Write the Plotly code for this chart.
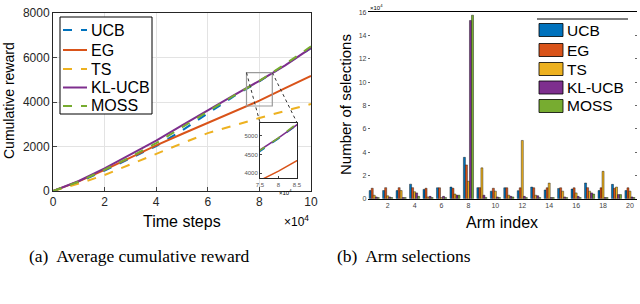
import plotly.graph_objects as go

# ---------------- data ----------------
# (a) cumulative reward, time in units of 10^4 steps
t = [0, 1, 2, 3, 4, 5, 6, 7, 8, 9, 10]
rew_ucb = [0, 400, 920, 1460, 2020, 2720, 3500, 4250, 4930, 5660, 6420]
rew_eg = [0, 430, 950, 1500, 2050, 2560, 3060, 3560, 4060, 4620, 5170]
rew_ts = [0, 330, 720, 1200, 1660, 2140, 2600, 2950, 3280, 3600, 3910]
rew_kl = [0, 450, 1020, 1630, 2260, 2950, 3640, 4300, 4950, 5650, 6430]
rew_moss = [0, 420, 960, 1530, 2150, 2870, 3580, 4280, 4950, 5700, 6500]

# (b) arm selections, units of 10^4
arms = list(range(1, 21))
sel_ucb = [0.70, 0.70, 0.70, 1.25, 0.80, 0.94, 1.00, 3.55, 0.95, 0.65, 0.94, 0.69, 1.00, 0.75, 0.88, 0.83, 1.35, 0.70, 1.23, 0.70]
sel_eg = [0.90, 0.95, 0.95, 0.95, 0.90, 0.94, 0.90, 2.90, 0.95, 0.90, 0.94, 0.94, 0.94, 0.94, 0.94, 0.94, 0.95, 0.94, 0.90, 0.94]
sel_ts = [0.30, 0.25, 0.70, 0.60, 0.15, 0.10, 0.40, 1.50, 2.65, 0.65, 0.30, 5.00, 0.30, 1.34, 0.65, 0.50, 0.65, 2.35, 1.00, 0.65]
sel_kl = [0.15, 0.15, 0.10, 0.50, 0.20, 0.20, 0.30, 15.30, 0.30, 0.15, 0.20, 0.20, 0.25, 0.10, 0.15, 0.20, 0.50, 0.10, 0.35, 0.15]
sel_moss = [0.10, 0.10, 0.10, 0.20, 0.10, 0.10, 0.30, 15.75, 0.10, 0.10, 0.15, 0.10, 0.10, 0.10, 0.10, 0.10, 0.40, 0.10, 0.35, 0.10]

names = ["UCB", "EG", "TS", "KL-UCB", "MOSS"]
x_ticks = [0, 2, 4, 6, 8, 10]
y_ticks = [0, 2000, 4000, 6000, 8000]
arm_ticks = [2, 4, 6, 8, 10, 12, 14, 16, 18, 20]
sel_ticks = [0, 2, 4, 6, 8, 10, 12, 14, 16]
inset_xticks = [7.5, 8, 8.5]
inset_xtext = ["7.5", "8", "8.5"]
inset_yticks = [4000, 4500, 5000]

# ---------------- style ----------------
W, H = 640, 304
colors = ["#0072BD", "#D95319", "#EDB120", "#7E2F8E", "#77AC30"]
dashes = ["dash", "solid", "dash", "solid", "dash"]
SANS = "Liberation Sans, Arial, sans-serif"
SERIF = "Liberation Serif, Times New Roman, serif"


def px(x):
    return x / W


def py(y):
    return 1 - y / H


main_dom_x = [px(53), px(311)]
main_dom_y = [py(191), py(13)]
ins_dom_x = [px(260), px(297)]
ins_dom_y = [py(178.3), py(122.7)]
bar_dom_x = [px(367.5), px(636.7)]
bar_dom_y = [py(198.7), py(12.3)]
main_xr = [0, 10]
main_yr = [0, 8000]
ins_xr = [7.5, 8.5]
ins_yr = [3866, 5356]

fig = go.Figure()

series = [rew_ucb, rew_eg, rew_ts, rew_kl, rew_moss]
for name, ys, c, d in zip(names, series, colors, dashes):
    fig.add_trace(go.Scatter(x=t, y=ys, name=name, mode="lines",
                             line=dict(color=c, dash=d, width=2),
                             xaxis="x", yaxis="y", showlegend=False))
for name, ys, c, d in zip(names, series, colors, dashes):
    fig.add_trace(go.Scatter(x=t, y=ys, name=name, mode="lines",
                             line=dict(color=c, dash=d, width=1.5),
                             xaxis="x2", yaxis="y2", showlegend=False))

bars = [sel_ucb, sel_eg, sel_ts, sel_kl, sel_moss]
for name, ys, c in zip(names, bars, colors):
    fig.add_trace(go.Bar(x=arms, y=ys, name=name,
                         marker=dict(color=c, line=dict(color="black", width=0.4)),
                         xaxis="x3", yaxis="y3", showlegend=False))

axcol = "#262626"
fig.update_layout(
    width=W, height=H, autosize=False,
    margin=dict(l=0, r=0, t=0, b=0, pad=0, autoexpand=False),
    paper_bgcolor="white", plot_bgcolor="white",
    font=dict(family=SANS, color=axcol),
    barmode="group", bargap=0.25, bargroupgap=0,
    showlegend=False,
    xaxis=dict(domain=main_dom_x, range=main_xr, tickvals=x_ticks,
               showgrid=True, gridcolor="#e3e3e3", zeroline=False,
               showline=True, mirror=True, linecolor=axcol, linewidth=1,
               ticks="inside", ticklen=4, tickfont=dict(size=12, color=axcol), anchor="y"),
    yaxis=dict(domain=main_dom_y, range=main_yr, tickvals=y_ticks,
               showgrid=True, gridcolor="#e3e3e3", zeroline=False,
               showline=True, mirror=True, linecolor=axcol, linewidth=1,
               ticks="inside", ticklen=4, tickfont=dict(size=12, color=axcol), anchor="x"),
    xaxis2=dict(domain=ins_dom_x, range=ins_xr, tickvals=inset_xticks, ticktext=inset_xtext,
                showgrid=False, zeroline=False, showline=True, mirror=True,
                linecolor=axcol, ticks="inside", ticklen=2,
                tickfont=dict(size=6, color="#555"), anchor="y2"),
    yaxis2=dict(domain=ins_dom_y, range=ins_yr, tickvals=inset_yticks,
                showgrid=False, zeroline=False, showline=True, mirror=True,
                linecolor=axcol, ticks="inside", ticklen=2,
                tickfont=dict(size=6, color="#555"), anchor="x2"),
    xaxis3=dict(domain=bar_dom_x, range=[0.5, 20.5], tickvals=arm_ticks,
                showgrid=False, zeroline=False, showline=True, mirror=True,
                linecolor="black", linewidth=1, ticks="",
                tickfont=dict(size=7, color="#444"), anchor="y3"),
    yaxis3=dict(domain=bar_dom_y, range=[0, 16], tickvals=sel_ticks,
                showgrid=False, zeroline=False, showline=False, mirror="ticks",
                ticks="inside", ticklen=2, tickcolor="#666",
                tickfont=dict(size=7, color="#444"), anchor="x3"),
)

# zoom rectangle + connectors
rx0, rx1, ry0, ry1 = 7.5, 8.5, 3820, 5320
fig.add_shape(type="rect", xref="x", yref="y", x0=rx0, x1=rx1, y0=ry0, y1=ry1,
              line=dict(color="#9a9a9a", width=1.2))


def main_to_paper(xv, yv):
    fx = main_dom_x[0] + (xv - main_xr[0]) / (main_xr[1] - main_xr[0]) * (main_dom_x[1] - main_dom_x[0])
    fy = main_dom_y[0] + (yv - main_yr[0]) / (main_yr[1] - main_yr[0]) * (main_dom_y[1] - main_dom_y[0])
    return fx, fy


for xv, ix in [(rx0, ins_dom_x[0]), (rx1, ins_dom_x[1])]:
    fx, fy = main_to_paper(xv, ry1)
    fig.add_shape(type="line", xref="paper", yref="paper", x0=fx, y0=fy, x1=ix, y1=ins_dom_y[1],
                  line=dict(color="#333", width=1, dash="dot"))

# ---------------- legends (drawn as key boxes) ----------------
leg_rows = [30, 50, 69, 87.5, 106]
LFS = 16
# left legend: line keys
fig.add_shape(type="rect", xref="paper", yref="paper", x0=px(60), x1=px(152), y0=py(114), y1=py(17),
              line=dict(color="black", width=1), fillcolor="white", layer="above")
for name, c, d, yy in zip(names, colors, dashes, leg_rows):
    fig.add_shape(type="line", xref="paper", yref="paper", x0=px(63), x1=px(87), y0=py(yy), y1=py(yy),
                  line=dict(color=c, width=2, dash=d), layer="above")
    fig.add_annotation(text=name, x=px(89), y=py(yy), xref="paper", yref="paper", showarrow=False,
                       xanchor="left", yanchor="middle", font=dict(size=LFS, family=SANS, color="black"))
# right legend: patch keys
fig.add_shape(type="line", xref="paper", yref="paper", x0=px(537), x1=px(628), y0=py(19), y1=py(19),
              line=dict(color="black", width=1), layer="above")
for name, c, yy in zip(names, colors, leg_rows):
    fig.add_shape(type="rect", xref="paper", yref="paper", x0=px(539), x1=px(563),
                  y0=py(yy + 6.5), y1=py(yy - 6.5),
                  line=dict(color="black", width=0.8), fillcolor=c, layer="above")
    fig.add_annotation(text=name, x=px(565), y=py(yy), xref="paper", yref="paper", showarrow=False,
                       xanchor="left", yanchor="middle", font=dict(size=LFS - 0.5, family=SANS, color="black"))

ann = [
    dict(text="Cumulative reward", x=px(9), y=py(101), textangle=-90, size=14, fam=SANS),
    dict(text="Time steps", x=px(182), y=py(221), size=16, fam=SANS),
    dict(text="×10<sup>4</sup>", x=px(296), y=py(221), size=12, fam=SANS),
    dict(text="Number of selections", x=px(345), y=py(105), textangle=-90, size=15, fam=SANS),
    dict(text="Arm index", x=px(502), y=py(222), size=16, fam=SANS),
    dict(text="×10<sup>4</sup>", x=px(376), y=py(7), size=6, fam=SANS),
    dict(text="×10<sup>4</sup>", x=px(285), y=py(192), size=6, fam=SANS),
    dict(text="(a)  Average cumulative reward", x=px(139), y=py(256), size=17.5, fam=SERIF),
    dict(text="(b)  Arm selections", x=px(404), y=py(256), size=17.5, fam=SERIF),
]
for a in ann:
    fig.add_annotation(text=a["text"], x=a["x"], y=a["y"], xref="paper", yref="paper",
                       showarrow=False, textangle=a.get("textangle", 0),
                       font=dict(size=a["size"], family=a["fam"], color="black"),
                       xanchor="center", yanchor="middle")
fig.add_annotation(text="Fig. 3: Experimental evaluation", x=px(163), y=py(305), xref="paper", yref="paper",
                   showarrow=False, xanchor="left", yanchor="top",
                   font=dict(size=18, family=SERIF, color="black"))

fig.write_html("out.html", config={"displayModeBar": False},
               post_script="document.body.style.margin='0px';document.body.style.overflow='hidden';")
